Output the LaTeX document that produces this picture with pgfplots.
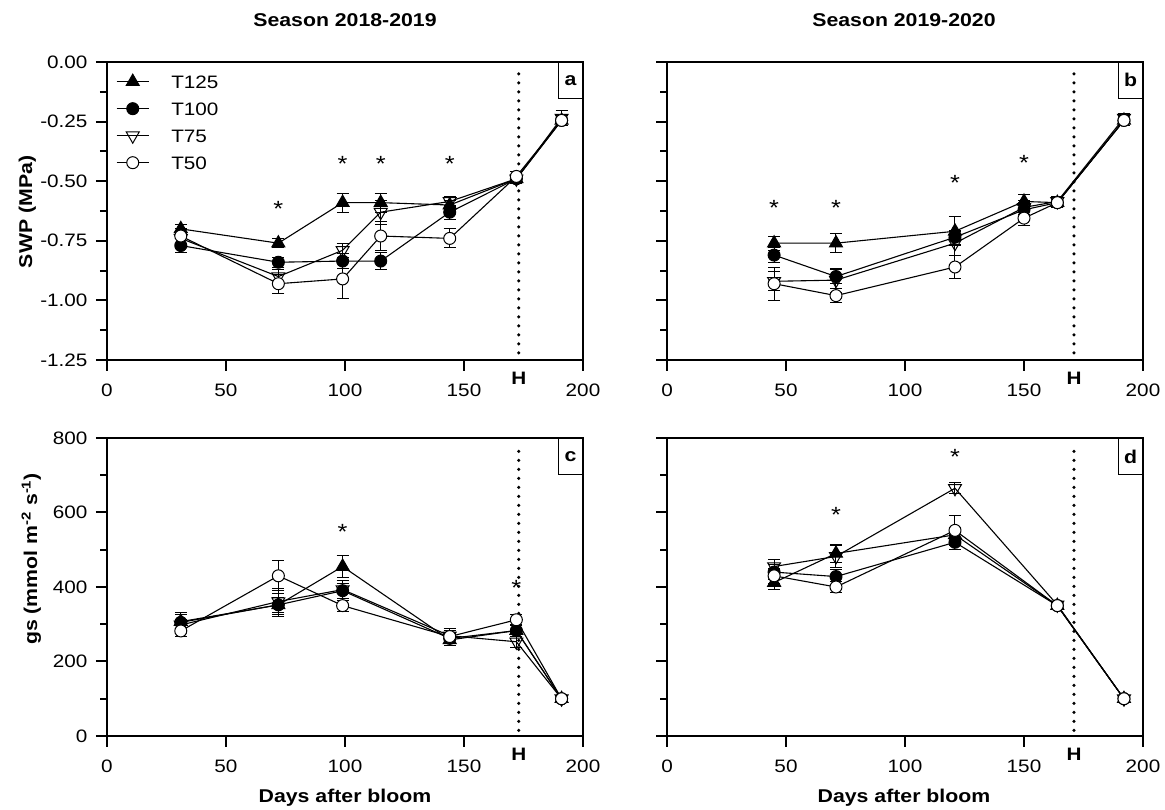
\documentclass[border=0pt]{standalone}
\usepackage{fontspec}
\setmainfont{Liberation Sans}[FakeStretch=1.15]
\usepackage{pgfplots}
\pgfplotsset{compat=1.18}

\newcommand\tk{\fontsize{18}{20}\selectfont}
\newcommand\lb{\fontsize{18.5}{22}\selectfont\bfseries}

\tikzset{corner/.style={draw, line width=0.8pt, anchor=north east, minimum width=24pt,
    minimum height=36pt, inner sep=0pt, font=\lb}}

\pgfplotsset{
  panel/.style={
    scale only axis, width=476pt, height=298pt,
    xmin=0, xmax=200, xtick={0,50,100,150,200},
    axis line style={line width=2.2pt},
    every tick/.style={black, line width=2pt},
    major tick length=11pt, minor tick length=7pt,
    tick align=outside, tick pos=left,
    minor y tick num=1,
    /pgf/number format/assume math mode=true,
    tick label style={font=\tk},
    xticklabel style={yshift=-9pt},
    yticklabel style={xshift=-5pt},
    extra x tick style={major tick length=0pt, xticklabel style={font=\tk\bfseries}},
    clip=false,
    every axis plot/.append style={black, line width=1.1pt},
  },
  eb/.style={error bars/y dir=both, error bars/y explicit,
    error bars/error bar style={line width=1pt},
    error bars/error mark options={rotate=90, mark size=6pt, line width=1pt}},
  s125/.style={eb, mark=triangle*, mark size=7.5pt, mark options={fill=black, line width=1pt}},
  s100/.style={eb, mark=*, mark size=6pt, mark options={fill=black, line width=1pt}},
  s75/.style={eb, mark=triangle, mark size=7.5pt, mark options={fill=white, rotate=180, line width=1pt}},
  s50/.style={eb, mark=*, mark size=6pt, mark options={fill=white, line width=1pt}},
  hline/.style={forget plot, line width=3.5pt, line cap=round, dash pattern=on 0pt off 9pt},
  stars/.style={forget plot, only marks, mark=*, mark size=0pt, mark options={draw=none, fill=none},
    nodes near coords={*},
    every node near coord/.style={anchor=center, font=\fontsize{22}{22}\selectfont, yshift=-4pt}},
}

\begin{document}
\begin{tikzpicture}
\useasboundingbox (0,0) rectangle (1165pt,810pt);

% ---- a: SWP, season 2018-2019
\begin{axis}[panel, at={(107pt,450pt)}, anchor=south west,
  ymin=-1.25, ymax=0, ytick={-1.25,-1,-0.75,-0.5,-0.25,0},
  yticklabel style={/pgf/number format/.cd, fixed, fixed zerofill, precision=2},
  extra x ticks={173}, extra x tick labels={H},
  legend style={at={(0,1)}, anchor=north west, xshift=9pt, yshift=-11pt,
    draw=none, fill=none, font=\fontsize{18}{20}\selectfont,
    row sep=10pt, column sep=20pt, inner sep=0pt,
    nodes={inner sep=2pt, text height=13pt, text depth=0pt}},
  legend cell align=left,
  legend image code/.code={\draw[mark repeat=2, mark phase=2] plot coordinates {(0pt,0pt)(16pt,0pt)(32pt,0pt)};},
]
\addplot[s125] coordinates {(31,-0.70)+-(0,0.02) (72,-0.76)+-(0,0.02) (99,-0.59)+-(0,0.04) (115,-0.59)+-(0,0.04) (144,-0.60)+-(0,0.02) (172,-0.49)+-(0,0.02) (191,-0.245)+-(0,0.02)};
\addplot[s100] coordinates {(31,-0.77)+-(0,0.03) (72,-0.84)+-(0,0.02) (99,-0.835)+-(0,0.03) (115,-0.835)+-(0,0.035) (144,-0.63)+-(0,0.03) (172,-0.49)+-(0,0.02) (191,-0.245)+-(0,0.02)};
\addplot[s75] coordinates {(31,-0.74)+-(0,0.02) (72,-0.90)+-(0,0.03) (99,-0.79)+-(0,0.03) (115,-0.63)+-(0,0.05) (144,-0.585)+-(0,0.02) (172,-0.49)+-(0,0.02) (191,-0.235)+-(0,0.03)};
\addplot[s50] coordinates {(31,-0.73)+-(0,0.03) (72,-0.93)+-(0,0.04) (99,-0.91)+-(0,0.08) (115,-0.73)+-(0,0.06) (144,-0.74)+-(0,0.04) (172,-0.48)+-(0,0.02) (191,-0.245)+-(0,0.02)};
\legend{T125,T100,T75,T50}
\addplot[hline] coordinates {(173,-1.22) (173,-0.03)};
\addplot[stars] coordinates {(72,-0.60) (99,-0.41) (115,-0.41) (144,-0.41)};
\node[corner] at (rel axis cs:1,1) {a};
\end{axis}

% ---- b: SWP, season 2019-2020
\begin{axis}[panel, at={(667pt,450pt)}, anchor=south west,
  ymin=-1.25, ymax=0, ytick={-1.25,-1,-0.75,-0.5,-0.25,0}, yticklabels={},
  extra x ticks={171}, extra x tick labels={H},
]
\addplot[s125] coordinates {(45,-0.76)+-(0,0.03) (71,-0.76)+-(0,0.04) (121,-0.71)+-(0,0.06) (150,-0.585)+-(0,0.03) (164,-0.59)+-(0,0.02) (192,-0.245)+-(0,0.02)};
\addplot[s100] coordinates {(45,-0.81)+-(0,0.03) (71,-0.90)+-(0,0.03) (121,-0.735)+-(0,0.03) (150,-0.62)+-(0,0.03) (164,-0.59)+-(0,0.02) (192,-0.245)+-(0,0.02)};
\addplot[s75] coordinates {(45,-0.92)+-(0,0.04) (71,-0.915)+-(0,0.05) (121,-0.76)+-(0,0.05) (150,-0.61)+-(0,0.03) (164,-0.585)+-(0,0.02) (192,-0.235)+-(0,0.02)};
\addplot[s50] coordinates {(45,-0.93)+-(0,0.07) (71,-0.98)+-(0,0.03) (121,-0.86)+-(0,0.05) (150,-0.655)+-(0,0.03) (164,-0.59)+-(0,0.02) (192,-0.245)+-(0,0.02)};
\addplot[hline] coordinates {(171,-1.22) (171,-0.03)};
\addplot[stars] coordinates {(45,-0.595) (71,-0.595) (121,-0.49) (150,-0.405)};
\node[corner] at (rel axis cs:1,1) {b};
\end{axis}

% ---- c: gs, season 2018-2019
\begin{axis}[panel, at={(107pt,74pt)}, anchor=south west,
  ymin=0, ymax=800, ytick={0,200,400,600,800},
  extra x ticks={173}, extra x tick labels={H},
]
\addplot[s125] coordinates {(31,307)+-(0,25) (72,352)+-(0,20) (99,455)+-(0,30) (144,258)+-(0,15) (172,283)+-(0,15) (191,100)+-(0,10)};
\addplot[s100] coordinates {(31,305)+-(0,20) (72,352)+-(0,30) (99,390)+-(0,20) (144,262)+-(0,15) (172,283)+-(0,15) (191,100)+-(0,10)};
\addplot[s75] coordinates {(31,298)+-(0,15) (72,361)+-(0,35) (99,393)+-(0,25) (144,269)+-(0,20) (172,253)+-(0,15) (191,100)+-(0,10)};
\addplot[s50] coordinates {(31,282)+-(0,15) (72,430)+-(0,40) (99,350)+-(0,15) (144,267)+-(0,15) (172,312)+-(0,15) (191,100)+-(0,10)};
\addplot[hline] coordinates {(173,15) (173,785)};
\addplot[stars] coordinates {(99,558) (172,408)};
\node[corner] at (rel axis cs:1,1) {c};
\end{axis}

% ---- d: gs, season 2019-2020
\begin{axis}[panel, at={(667pt,74pt)}, anchor=south west,
  ymin=0, ymax=800, ytick={0,200,400,600,800}, yticklabels={},
  extra x ticks={171}, extra x tick labels={H},
]
\addplot[s125] coordinates {(45,412)+-(0,20) (71,490)+-(0,25) (121,540)+-(0,20) (164,350)+-(0,10) (192,100)+-(0,10)};
\addplot[s100] coordinates {(45,440)+-(0,20) (71,428)+-(0,20) (121,520)+-(0,20) (164,350)+-(0,10) (192,100)+-(0,10)};
\addplot[s75] coordinates {(45,455)+-(0,20) (71,482)+-(0,30) (121,665)+-(0,15) (164,352)+-(0,10) (192,100)+-(0,10)};
\addplot[s50] coordinates {(45,430)+-(0,20) (71,400)+-(0,15) (121,552)+-(0,40) (164,350)+-(0,10) (192,100)+-(0,10)};
\addplot[hline] coordinates {(171,15) (171,785)};
\addplot[stars] coordinates {(71,603) (121,760)};
\node[corner] at (rel axis cs:1,1) {d};
\end{axis}

% titles and axis labels
\node[font=\lb, anchor=base] at (345pt,783.5pt) {Season 2018-2019};
\node[font=\lb, anchor=base] at (904pt,783.5pt) {Season 2019-2020};
\node[font=\lb, anchor=base] at (345pt,7pt) {Days after bloom};
\node[font=\lb, anchor=base] at (904pt,7pt) {Days after bloom};
\node[font=\lb, anchor=base, rotate=90] at (32pt,598pt) {SWP (MPa)};
\node[font=\lb, anchor=base, rotate=90] at (37pt,251pt) {gs (mmol m\textsuperscript{-2} s\textsuperscript{-1})};
\end{tikzpicture}
\end{document}
